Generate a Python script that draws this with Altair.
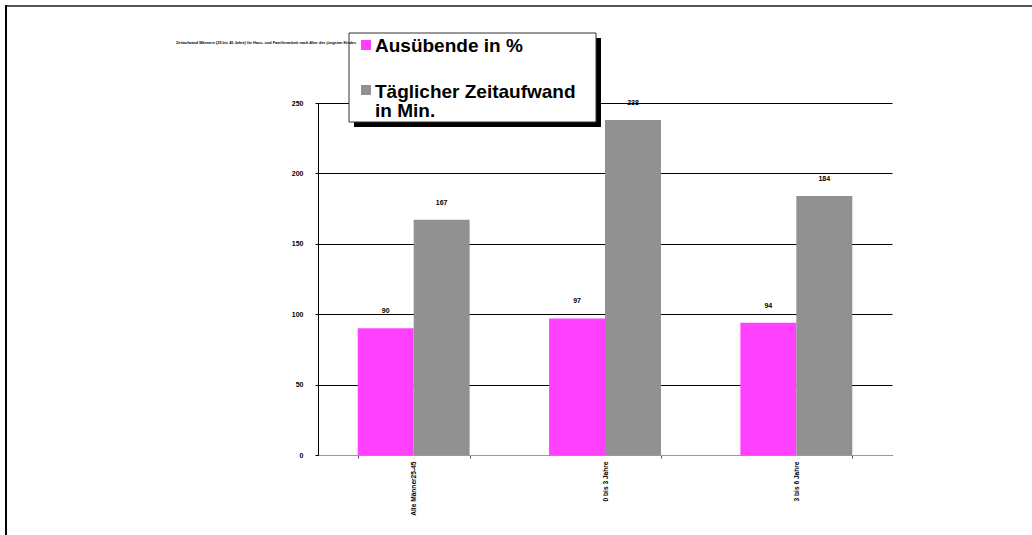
import altair as alt
import pandas as pd

categories = ["Alle Männer25-45", "0 bis 3 Jahre", "3 bis 6 Jahre"]
series = ["Ausübende in %", "Täglicher Zeitaufwand in Min."]
ausuebende = [90, 97, 94]
zeitaufwand = [167, 238, 184]
colors = ["#FF40FF", "#919191"]
y_ticks = [0, 50, 100, 150, 200, 250]
title_text = "Zeitaufwand Männern (25 bis 45 Jahre) für Haus- und Familienarbeit nach Alter des jüngsten Kindes"

rows = []
for c, a, z in zip(categories, ausuebende, zeitaufwand):
    rows.append({"kategorie": c, "serie": series[0], "wert": a})
    rows.append({"kategorie": c, "serie": series[1], "wert": z})
df = pd.DataFrame(rows)

FONT = "Liberation Sans"
W, H = 574, 352

x = alt.X(
    "kategorie:N", sort=categories, title=None,
    scale=alt.Scale(paddingInner=0.415, paddingOuter=0.2075),
    axis=alt.Axis(labelAngle=270, labelFontSize=6.6, labelFontWeight="bold", labelFont=FONT,
                  labelColor="black", domainColor="#999999", tickColor="#555555", tickSize=3,
                  tickBand="extent", labelPadding=3, grid=False),
)
xo = alt.XOffset("serie:N", sort=series, scale=alt.Scale(paddingInner=0, paddingOuter=0))
y = alt.Y(
    "wert:Q", title=None, scale=alt.Scale(domain=[0, 250], nice=False),
    axis=alt.Axis(values=y_ticks, labelFontSize=7, labelFontWeight="bold", labelFont=FONT,
                  labelColor="black", domainColor="black", tickColor="black", tickSize=3,
                  labelPadding=12, grid=True, gridColor="black", gridWidth=1, gridOpacity=1),
)
color = alt.Color("serie:N", sort=series, scale=alt.Scale(domain=series, range=colors), legend=None)

base = alt.Chart(df)
bars = base.mark_bar().encode(x=x, xOffset=xo, y=y, color=color)
labels = base.mark_text(dy=-15, fontSize=7, fontWeight="bold", font=FONT,
                        baseline="alphabetic", color="black").encode(
    x=x, xOffset=xo, y=y, text="wert:Q")

one = alt.Data(values=[{"a": 1}])

shadow = alt.Chart(one).mark_rect(color="black").encode(
    x=alt.value(36), x2=alt.value(283), y=alt.value(-65), y2=alt.value(24))
box = alt.Chart(one).mark_rect(fill="white", stroke="#333333", strokeWidth=1).encode(
    x=alt.value(31), x2=alt.value(278), y=alt.value(-70), y2=alt.value(19))
sq1 = alt.Chart(one).mark_rect(color=colors[0]).encode(
    x=alt.value(43), x2=alt.value(53), y=alt.value(-63), y2=alt.value(-53))
sq2 = alt.Chart(one).mark_rect(color=colors[1]).encode(
    x=alt.value(43), x2=alt.value(53), y=alt.value(-18), y2=alt.value(-8))
t1 = alt.Chart(one).mark_text(align="left", baseline="alphabetic", fontSize=19, fontWeight="bold",
                              font=FONT, color="black").encode(
    x=alt.value(57), y=alt.value(-51), text=alt.value(series[0]))
t2 = alt.Chart(one).mark_text(align="left", baseline="alphabetic", fontSize=19, fontWeight="bold",
                              font=FONT, color="black", lineBreak="\n", lineHeight=19).encode(
    x=alt.value(57), y=alt.value(-5), text=alt.value(series[1].replace(" in Min.", "\nin Min.")))

title = alt.Chart(one).mark_text(align="left", baseline="middle", fontSize=3.8, fontWeight="bold",
                                 font=FONT, color="black").encode(
    x=alt.value(176 - 318), y=alt.value(43 - 103), text=alt.value(title_text))

top_border = alt.Chart(one).mark_rule(color="#555555", strokeWidth=2).encode(
    x=alt.value(-313), x2=alt.value(714), y=alt.value(-97))
left_border = alt.Chart(one).mark_rule(color="black", strokeWidth=2).encode(
    x=alt.value(-312), y=alt.value(-98), y2=alt.value(432))

chart = alt.layer(
    bars, labels, shadow, box, sq1, sq2, t1, t2, title, top_border, left_border
).properties(
    width=W, height=H,
    padding={"left": 318, "top": 103, "right": 140, "bottom": 80},
    autosize=alt.AutoSizeParams(type="none"),
    background="white",
).configure_view(strokeWidth=0)

chart.save("out.html", embed_options={"renderer": "svg", "actions": False})
